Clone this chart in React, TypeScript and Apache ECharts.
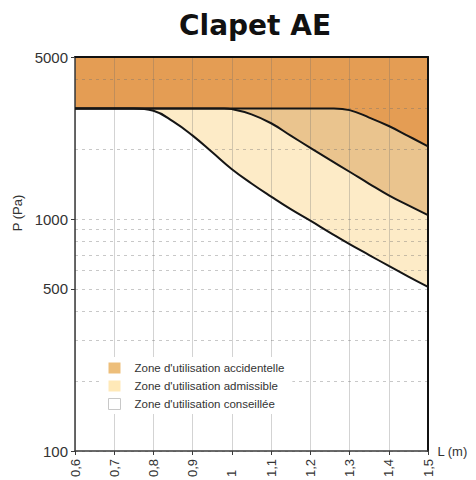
import React, { useEffect, useRef } from 'react';
import * as echarts from 'echarts';

const chartTitle = 'Clapet AE';
const xAxisName = 'L (m)';
const yAxisName = 'P (Pa)';

const yLabelValues = [100, 500, 1000, 5000];
const yGridValues = [100, 200, 300, 400, 500, 600, 700, 800, 900, 1000, 2000, 3000, 4000, 5000];

const legendNames = [
  "Zone d'utilisation accidentelle",
  "Zone d'utilisation admissible",
  "Zone d'utilisation conseillée",
];

// lower limit curve (conseillée / admissible)
const curve1L = [0.6, 0.75, 0.8, 0.85, 0.9, 0.95, 1.0, 1.05, 1.1, 1.15, 1.2, 1.25, 1.3, 1.35, 1.4, 1.45, 1.5];
const curve1P = [3000, 3000, 2930, 2640, 2290, 1940, 1640, 1424, 1250, 1103, 984, 875, 780, 700, 628, 565, 510];

// middle limit curve (admissible / accidentelle)
const curve2L = [0.6, 0.98, 1.0, 1.05, 1.1, 1.15, 1.2, 1.25, 1.3, 1.35, 1.4, 1.45, 1.5];
const curve2P = [3000, 3000, 2980, 2830, 2590, 2290, 2030, 1800, 1600, 1420, 1265, 1145, 1040];

// upper limit curve (accidentelle / interdite)
const curve3L = [0.6, 1.26, 1.3, 1.35, 1.4, 1.45, 1.5];
const curve3P = [3000, 3000, 2950, 2740, 2520, 2280, 2060];

const colors = {
  interdite: '#E49D54',
  accidentelle: '#EAC48E',
  admissible: '#FDEBC7',
  conseillee: '#FFFFFF',
};

const pairs = (xs: number[], ps: number[]) => xs.map((x, i) => [x, ps[i]]);

export default function App() {
  const ref = useRef<HTMLDivElement>(null);

  useEffect(() => {
    if (!ref.current) return;
    const chart = echarts.init(ref.current, undefined, { renderer: 'svg' });
    const c1 = pairs(curve1L, curve1P);
    const c2 = pairs(curve2L, curve2P);
    const c3 = pairs(curve3L, curve3P);
    const smooth = 0.45;
    const font = 'Liberation Sans, Arial, sans-serif';

    const areaSeries = (name: string, data: number[][], color: string, origin: string) => ({
      type: 'line',
      name,
      data,
      smooth,
      symbol: 'none',
      silent: true,
      z: 2,
      lineStyle: { width: 0, color },
      itemStyle: { color },
      areaStyle: { origin, color, opacity: 1 },
    });
    const lineSeries = (data: number[][]) => ({
      type: 'line',
      data,
      smooth,
      symbol: 'none',
      silent: true,
      z: 5,
      lineStyle: { width: 2, color: '#151515' },
      itemStyle: { color: '#151515' },
    });

    chart.setOption({
      animation: false,
      title: {
        text: chartTitle,
        left: 174,
        top: 6,
        textStyle: { fontFamily: 'DejaVu Sans', fontWeight: 'bold', fontSize: 28, color: '#111' },
      },
      grid: { left: 75, right: 48, top: 57, bottom: 27, containLabel: false },
      legend: {
        orient: 'vertical',
        left: 103,
        top: 357,
        padding: [5, 8, 4, 5],
        backgroundColor: '#fff',
        itemWidth: 12,
        itemHeight: 11,
        itemGap: 6,
        icon: 'rect',
        selectedMode: false,
        textStyle: { fontSize: 11.5, color: '#333', fontFamily: font, padding: [0, 0, 0, 9], lineHeight: 12 },
        data: [
          { name: legendNames[0], itemStyle: { color: '#EDBE7A', borderWidth: 0 } },
          { name: legendNames[1], itemStyle: { color: '#FFE9B8', borderWidth: 0 } },
          { name: legendNames[2], itemStyle: { color: '#FFFFFF', borderColor: '#C8C8C8', borderWidth: 1 } },
        ],
      },
      xAxis: [
        {
          type: 'value',
          min: 0.6,
          max: 1.5,
          interval: 0.1,
          position: 'bottom',
          z: 3,
          name: xAxisName,
          nameLocation: 'end',
          nameGap: 9,
          nameTextStyle: { fontSize: 13, color: '#333', fontFamily: font },
          axisLine: { show: true, onZero: false, lineStyle: { color: '#3a3a3a', width: 1.5 } },
          axisTick: { show: true, length: 4, lineStyle: { color: '#3a3a3a' } },
          axisLabel: {
            rotate: 90,
            align: 'left',
            margin: 26,
            fontSize: 13,
            color: '#333',
            fontFamily: font,
            formatter: (v: number) => String(Math.round(v * 10) / 10).replace('.', ','),
          },
          splitLine: { show: true, lineStyle: { color: 'rgba(110,110,110,0.3)', width: 1 } },
        },
        {
          type: 'value',
          min: 0.6,
          max: 1.5,
          position: 'top',
          z: 3,
          axisLine: { show: true, onZero: false, lineStyle: { color: '#111', width: 2 } },
          axisTick: { show: false },
          axisLabel: { show: false },
          splitLine: { show: false },
        },
      ],
      yAxis: [
        {
          type: 'log',
          logBase: 10,
          min: 100,
          max: 5000,
          position: 'right',
          z: 3,
          axisLine: { show: true, onZero: false, lineStyle: { color: '#111', width: 2 } },
          axisTick: { show: false, customValues: yGridValues },
          axisLabel: { show: false },
          splitLine: { show: true, lineStyle: { color: 'rgba(110,110,110,0.38)', width: 1, type: [3, 4] } },
        },
        {
          type: 'log',
          logBase: 10,
          min: 100,
          max: 5000,
          position: 'left',
          z: 3,
          name: yAxisName,
          nameLocation: 'middle',
          nameGap: 47,
          nameTextStyle: { fontSize: 13, color: '#333', fontFamily: font, padding: [0, 0, 0, 82] },
          axisLine: { show: true, onZero: false, lineStyle: { color: '#3a3a3a', width: 1.5 } },
          axisTick: { show: true, length: 4, customValues: yLabelValues, lineStyle: { color: '#3a3a3a' } },
          axisLabel: {
            customValues: yLabelValues,
            fontSize: 15,
            color: '#333',
            margin: 7,
            fontFamily: font,
            formatter: (v: number) => String(Math.round(v)),
          },
          splitLine: { show: false },
        },
      ],
      series: [
        areaSeries(legendNames[2], c1, colors.conseillee, 'start'),
        areaSeries(legendNames[1], c1, colors.admissible, 'end'),
        areaSeries(legendNames[0], c2, colors.accidentelle, 'end'),
        areaSeries('Zone interdite', c3, colors.interdite, 'end'),
        lineSeries(c1),
        lineSeries(c2),
        lineSeries(c3),
      ],
    });
    return () => chart.dispose();
  }, []);

  return (
    <div
      ref={ref}
      style={{ position: 'fixed', left: 0, top: 0, width: 476, height: 480, background: '#fff' }}
    />
  );
}
